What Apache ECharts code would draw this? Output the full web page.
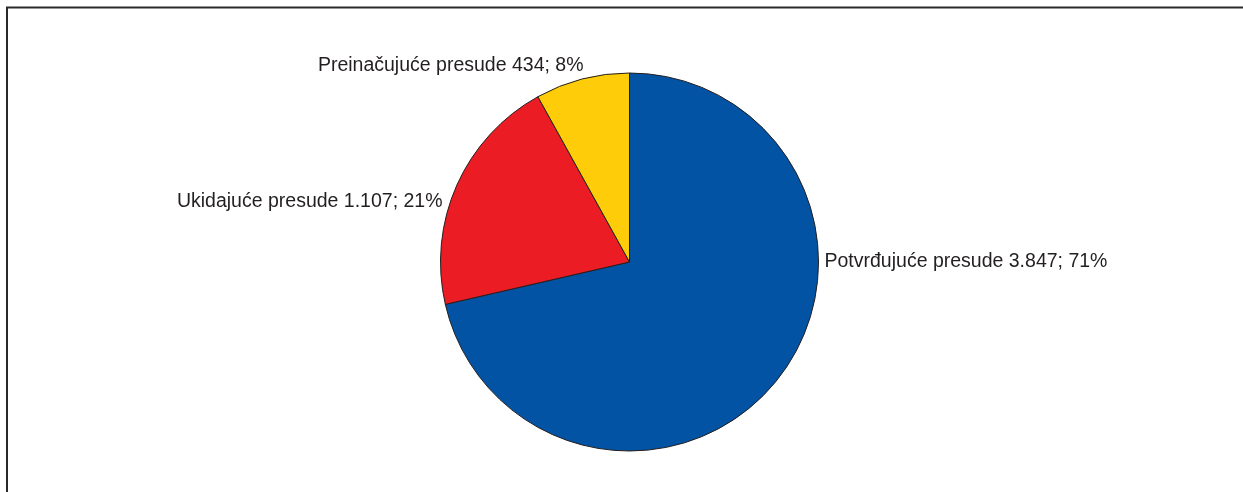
<!DOCTYPE html>
<html>
<head>
<meta charset="utf-8">
<style>
  html, body { margin: 0; padding: 0; background: #ffffff; }
  #chart { width: 1243px; height: 492px; }
</style>
<script src="https://cdn.jsdelivr.net/npm/echarts@6/dist/echarts.min.js"></script>
</head>
<body>
<div id="chart"></div>
<script>
const categories = ['Potvrđujuće presude', 'Ukidajuće presude', 'Preinačujuće presude'];
const values = [3847, 1107, 434];
const colors = ['#0353a5', '#ec1c24', '#ffcc0a'];

const CX = 629.5, CY = 262, R = 189;

function fmtThousands(v) {
  return String(v).replace(/\B(?=(\d{3})+(?!\d))/g, '.');
}

const chart = echarts.init(document.getElementById('chart'), null, { renderer: 'canvas' });

const option = {
  animation: false,
  backgroundColor: '#ffffff',
  graphic: [{
    type: 'polyline',
    shape: { points: [[7, 492], [7, 7.5], [1243, 7.5]] },
    style: { stroke: '#2a2a2a', lineWidth: 2, fill: null },
    silent: true
  }],
  series: [{
    type: 'pie',
    center: [CX, CY],
    radius: R,
    startAngle: 90,
    clockwise: true,
    avoidLabelOverlap: false,
    emphasis: { disabled: true },
    itemStyle: { borderColor: '#231f20', borderWidth: 1 },
    label: {
      show: true,
      position: 'outside',
      color: '#231f20',
      fontFamily: 'Liberation Sans, Arial, sans-serif',
      fontSize: 19.5,
      formatter: function (p) {
        return p.name + ' ' + fmtThousands(p.value) + '; ' + Math.round(p.percent) + '%';
      }
    },
    labelLine: { show: false },
    labelLayout: function (p) {
      const i = p.dataIndex;
      if (i === 0) return { x: CX + R + 6, y: CY, align: 'left', verticalAlign: 'middle' };
      if (i === 1) return { x: CX - R + 2, y: CY - 60, align: 'right', verticalAlign: 'middle' };
      return { x: CX - 46, y: CY - 196, align: 'right', verticalAlign: 'middle' };
    },
    data: categories.map((c, i) => ({ name: c, value: values[i], itemStyle: { color: colors[i] } }))
  }]
};

chart.setOption(option);
</script>
</body>
</html>
